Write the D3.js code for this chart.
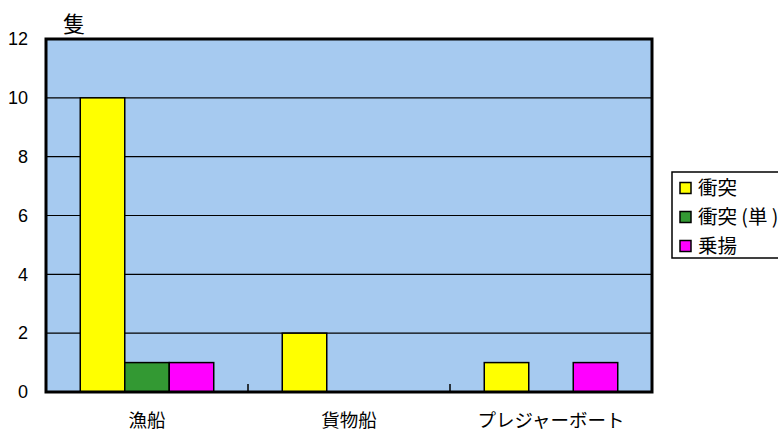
<!DOCTYPE html>
<html>
<head>
<meta charset="utf-8">
<script src="https://cdn.jsdelivr.net/npm/d3@7"></script>
<style>
  html, body { margin: 0; padding: 0; background: #fff; }
  svg { display: block; font-family: "Liberation Sans", Arial, "Noto Sans CJK JP", sans-serif; }
</style>
</head>
<body>
<svg id="chart" width="778" height="432"></svg>
<script>
// Vessel types and accident counts per type
const categories = ["漁船", "貨物船", "プレジャーボート"];
const seriesNames = ["衝突", "衝突 (単 )", "乗揚"];
const collision = [10, 2, 1];
const collisionSingle = [1, 0, 0];
const grounding = [1, 0, 1];
const seriesColors = ["#FFFF00", "#339933", "#FF00FF"];
const yTicks = [0, 2, 4, 6, 8, 10, 12];
const unitLabel = "隻";

const seriesValues = [collision, collisionSingle, grounding];
const rows = categories.map((c, i) => ({
  category: c,
  values: seriesNames.map((s, j) => ({ series: s, value: seriesValues[j][i], color: seriesColors[j] }))
}));

const svg = d3.select("#chart");
const plot = { left: 46, top: 39, right: 652, bottom: 392 };

const x0 = d3.scaleBand().domain(categories).range([plot.left, plot.right]).padding(0);
const x1 = d3.scaleBand().domain(seriesNames).range([0, x0.bandwidth()]).paddingInner(0).paddingOuter(0.77);
const y = d3.scaleLinear().domain([0, 12]).range([plot.bottom, plot.top]);

// plot background
svg.append("rect")
  .attr("x", plot.left).attr("y", plot.top)
  .attr("width", plot.right - plot.left).attr("height", plot.bottom - plot.top)
  .attr("fill", "#A6CAF0");

// horizontal gridlines
svg.append("g")
  .selectAll("line")
  .data(yTicks.filter(t => t > 0 && t < 12))
  .join("line")
  .attr("x1", plot.left).attr("x2", plot.right)
  .attr("y1", d => y(d)).attr("y2", d => y(d))
  .attr("stroke", "#000").attr("stroke-width", 1.2);

// bars
const groups = svg.append("g").selectAll("g")
  .data(rows)
  .join("g")
  .attr("transform", d => `translate(${x0(d.category)},0)`);

groups.selectAll("rect")
  .data(d => d.values.filter(v => v.value > 0))
  .join("rect")
  .attr("x", d => x1(d.series))
  .attr("y", d => y(d.value))
  .attr("width", x1.bandwidth())
  .attr("height", d => y(0) - y(d.value))
  .attr("fill", d => d.color)
  .attr("stroke", "#000")
  .attr("stroke-width", 1.5);

// frame
svg.append("rect")
  .attr("x", plot.left).attr("y", plot.top)
  .attr("width", plot.right - plot.left).attr("height", plot.bottom - plot.top)
  .attr("fill", "none").attr("stroke", "#000").attr("stroke-width", 3);

// category separator ticks on the x axis
svg.append("g")
  .selectAll("line")
  .data(categories.slice(1))
  .join("line")
  .attr("x1", d => x0(d)).attr("x2", d => x0(d))
  .attr("y1", plot.bottom - 8).attr("y2", plot.bottom)
  .attr("stroke", "#000").attr("stroke-width", 1.5);

// y axis labels
const yAxis = d3.axisLeft(y).tickValues(yTicks).tickSize(0).tickPadding(18);
const yg = svg.append("g").attr("transform", `translate(${plot.left},0)`).call(yAxis);
yg.select(".domain").remove();
yg.selectAll("text").attr("font-size", 18).attr("fill", "#000")
  .attr("font-family", "'Liberation Sans', Arial, sans-serif");

// x axis labels
const xAxis = d3.axisBottom(x0).tickSize(0).tickPadding(22);
const xg = svg.append("g").attr("transform", `translate(0,${plot.bottom})`).call(xAxis);
xg.select(".domain").remove();
xg.selectAll("text").attr("font-size", 18.5).attr("fill", "#000")
  .attr("font-family", "'Noto Sans CJK JP', sans-serif");

// unit label
svg.append("text")
  .attr("x", 74).attr("y", 32)
  .attr("text-anchor", "middle")
  .attr("font-size", 22)
  .attr("font-family", "'Noto Sans CJK JP', sans-serif")
  .text(unitLabel);

// legend
const legend = svg.append("g").attr("transform", "translate(672,172)");
legend.append("rect")
  .attr("x", 0).attr("y", 0).attr("width", 140).attr("height", 86)
  .attr("fill", "#fff").attr("stroke", "#000").attr("stroke-width", 1.5);
const items = legend.selectAll("g.item")
  .data(seriesNames)
  .join("g")
  .attr("class", "item")
  .attr("transform", (d, i) => `translate(8,${16 + i * 29})`);
items.append("rect")
  .attr("x", 0).attr("y", -5.5).attr("width", 11).attr("height", 11)
  .attr("fill", (d, i) => seriesColors[i])
  .attr("stroke", "#000").attr("stroke-width", 1.5);
items.append("text")
  .attr("x", 18).attr("y", 7)
  .attr("font-size", 19.5)
  .attr("font-family", "'Noto Sans CJK JP', sans-serif")
  .text(d => d);
</script>
</body>
</html>
